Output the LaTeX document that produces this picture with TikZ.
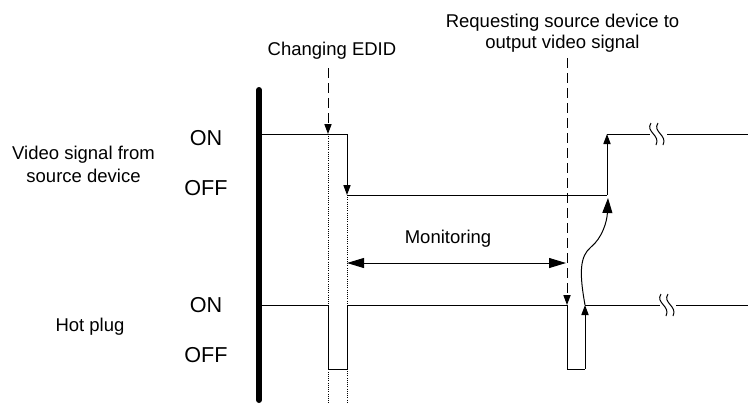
\documentclass[tikz,border=0pt]{standalone}
\usepackage{fontspec}
\setmainfont{Liberation Sans}
\usetikzlibrary{arrows.meta}

\tikzset{
    lbl/.style={font=\fontsize{9.25}{11.5}\selectfont, inner sep=0pt, anchor=base, align=center},
    lvl/.style={font=\fontsize{10.8}{12}\selectfont, inner sep=0pt, anchor=base},
    guide/.style={dash pattern=on 5pt off 2.5pt},
    dotline/.style={dash pattern=on 0.5pt off 0.6pt},
    wavebreak/.pic={
        \draw (-6,-11) .. controls (-12,-2) and (4,1) .. (-1,11);
        \draw (1,-11) .. controls (-5,-2) and (11,1) .. (6,11);
    }
}

\begin{document}
\begin{tikzpicture}[x=0.5pt, y=-0.5pt, line width=0.5pt, >={Triangle[length=5pt, width=3.6pt]}]
    \useasboundingbox (0,0) rectangle (748,403);

    % Labels
    \node[lbl] (video) at (83.5,182) {Video signal from\\source device};
    \node[lbl] (hot) at (90,331) {Hot plug};
    \node[lvl] (von) at (206,145) {ON};
    \node[lvl] (voff) at (206,195) {OFF};
    \node[lvl] (hon) at (206,312) {ON};
    \node[lvl] (hoff) at (206,362) {OFF};
    \node[lbl] (edid) at (332,55) {Changing EDID};
    \node[lbl, font=\fontsize{9.25}{10.5}\selectfont] (request) at (562.5,48) {Requesting source device to\\output video signal};
    \node[lbl] (monitor) at (448,243) {Monitoring};

    % Time axis
    \draw[line width=3pt, line cap=round] (259,90) -- (259,400);

    % Video signal
    \coordinate (vA) at (261,134);
    \coordinate (vB) at (347,134);
    \coordinate (vC) at (347,195);
    \coordinate (vD) at (607,195);
    \coordinate (vE) at (607,134);
    \coordinate (vF) at (650,134);
    \coordinate (vG) at (667,134);
    \coordinate (vH) at (748,134);
    \draw (vA) -- (vB);
    \draw[->] (vB) -- (vC);
    \draw (vC) -- (vD);
    \draw[->] (vD) -- (vE);
    \draw (vE) -- (vF);
    \draw (vG) -- (vH);
    \pic at (657,134) {wavebreak};

    % Hot plug
    \coordinate (hA) at (261,305);
    \coordinate (hB) at (328,305);
    \coordinate (hC) at (328,369);
    \coordinate (hD) at (347,369);
    \coordinate (hE) at (347,305);
    \coordinate (hF) at (567,305);
    \coordinate (hG) at (567,369);
    \coordinate (hH) at (585,369);
    \coordinate (hI) at (585,305);
    \coordinate (hJ) at (660,305);
    \coordinate (hK) at (676,305);
    \coordinate (hL) at (748,305);
    \draw (hA) -- (hB) -- (hC) -- (hD) -- (hE) -- (hF) -- (hG) -- (hH);
    \draw[->] (hH) -- (hI);
    \draw (hI) -- (hJ);
    \draw (hK) -- (hL);
    \pic at (667,305) {wavebreak};

    % Markers
    \coordinate (edidTop) at (328,68);
    \coordinate (reqTop) at (567,58);
    \draw[guide, ->] (edidTop) -- (hB |- vA);
    \draw[guide, ->] (reqTop) -- (hF);
    \draw[dotline] (hB |- vA) -- (328,403);
    \draw[dotline] (vC) -- (347,403);

    % Monitoring period
    \coordinate (mA) at (347,263);
    \coordinate (mB) at (566,263);
    \draw[{Triangle[length=8.5pt, width=5pt]}-{Triangle[length=8.5pt, width=5pt]}] (mA) -- (mB);

    % Hot plug triggers video output
    \draw[-{Triangle[length=7.5pt, width=5pt]}] (hI) .. controls (579,272) and (580,256) .. (591,247)
        .. controls (602,238) and (607,222) .. (608,198);
\end{tikzpicture}
\end{document}
